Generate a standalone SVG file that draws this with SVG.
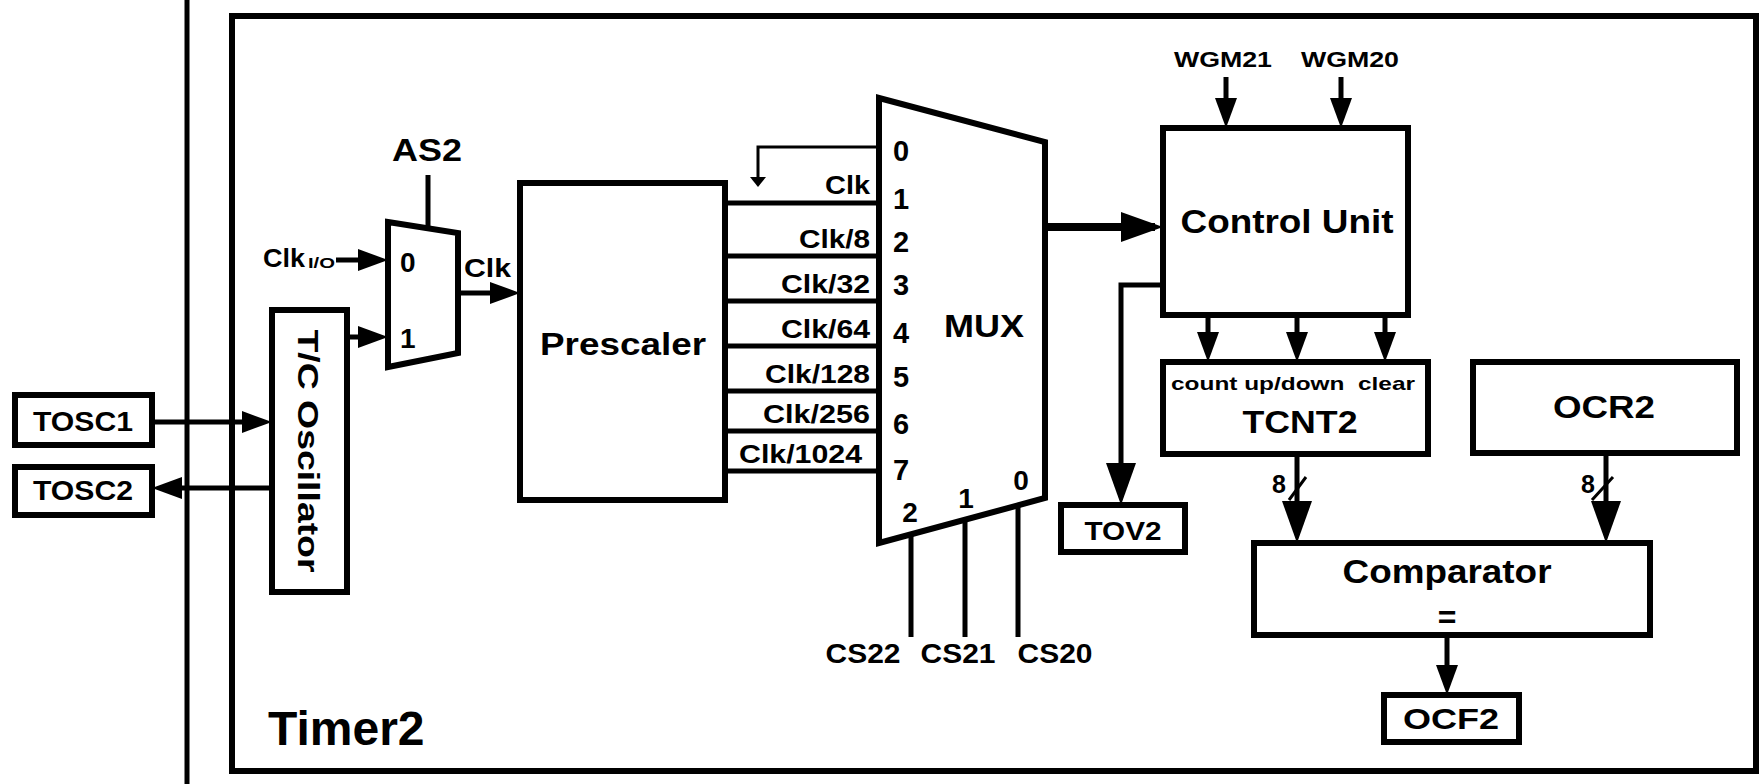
<svg xmlns="http://www.w3.org/2000/svg" width="1762" height="784" viewBox="0 0 1762 784">
<style>
text{font-family:"Liberation Sans",Arial,sans-serif;font-weight:bold;fill:#000}
.box{fill:#fff;stroke:#000;stroke-width:6}
.ln{fill:none;stroke:#000;stroke-width:5}
.thin{fill:none;stroke:#000;stroke-width:3}
.m{text-anchor:middle}
.e{text-anchor:end}
</style>
<defs>
<marker id="m1" markerUnits="userSpaceOnUse" markerWidth="30" markerHeight="22" refX="22" refY="11" orient="auto"><path d="M0,0 L30,11 L0,22 z" fill="#000"/></marker>
<marker id="m2" markerUnits="userSpaceOnUse" markerWidth="42" markerHeight="30" refX="34" refY="15" orient="auto"><path d="M0,0 L42,15 L0,30 z" fill="#000"/></marker>
<marker id="m3" markerUnits="userSpaceOnUse" markerWidth="10" markerHeight="16" refX="6" refY="8" orient="auto"><path d="M0,0 L10,8 L0,16 z" fill="#000"/></marker>
</defs>
<rect width="1762" height="784" fill="#fff"/>
<line x1="187" y1="0" x2="187" y2="784" stroke="#000" stroke-width="5"/>
<g id="timer2">
<rect x="232" y="16" width="1524" height="755" fill="none" stroke="#000" stroke-width="6"/>
<text x="268" y="745" font-size="48">Timer2</text>
</g>
<g id="tosc1"><rect class="box" x="15" y="395" width="137" height="50"/><text class="m" x="83" y="431" font-size="28" textLength="100" lengthAdjust="spacingAndGlyphs">TOSC1</text></g>
<g id="tosc2"><rect class="box" x="15" y="467" width="137" height="48"/><text class="m" x="83" y="500" font-size="28" textLength="100" lengthAdjust="spacingAndGlyphs">TOSC2</text></g>
<g id="oscillator"><rect class="box" x="272" y="310" width="75" height="282"/><text class="m" transform="translate(298,451) rotate(90)" font-size="30" textLength="243" lengthAdjust="spacingAndGlyphs">T/C Oscillator</text></g>
<g id="as2mux">
<polygon class="box" points="388,222 458,233 458,353 388,367"/>
<text x="400" y="272" font-size="28">0</text>
<text x="400" y="348" font-size="28">1</text>
</g>
<g id="as2"><text class="m" x="427" y="161" font-size="31" textLength="70" lengthAdjust="spacingAndGlyphs">AS2</text></g>
<g id="clkio"><text x="263" y="267" font-size="25" textLength="42" lengthAdjust="spacingAndGlyphs">Clk</text><text x="308" y="268" font-size="14" textLength="27" lengthAdjust="spacingAndGlyphs">I/O</text></g>
<g id="prescaler"><rect class="box" x="520" y="183" width="205" height="317"/><text class="m" x="623" y="355" font-size="32" textLength="166" lengthAdjust="spacingAndGlyphs">Prescaler</text></g>
<g id="mux">
<polygon class="box" points="879,98 1045,142 1045,498 879,543"/>
<text class="m" x="984" y="337" font-size="32" textLength="80" lengthAdjust="spacingAndGlyphs">MUX</text>
<text class="m" x="901" y="161" font-size="29">0</text>
<text class="m" x="901" y="209" font-size="29">1</text>
<text class="m" x="901" y="252" font-size="29">2</text>
<text class="m" x="901" y="295" font-size="29">3</text>
<text class="m" x="901" y="343" font-size="29">4</text>
<text class="m" x="901" y="387" font-size="29">5</text>
<text class="m" x="901" y="434" font-size="29">6</text>
<text class="m" x="901" y="480" font-size="29">7</text>
<text class="m" x="910" y="522" font-size="28">2</text>
<text class="m" x="966" y="508" font-size="28">1</text>
<text class="m" x="1021" y="490" font-size="28">0</text>
</g>
<g id="clklabels">
<text x="464" y="277" font-size="25" textLength="47" lengthAdjust="spacingAndGlyphs">Clk</text>
<text class="e" x="870" y="194" font-size="26" textLength="45" lengthAdjust="spacingAndGlyphs">Clk</text>
<text class="e" x="870" y="248" font-size="26" textLength="71" lengthAdjust="spacingAndGlyphs">Clk/8</text>
<text class="e" x="870" y="293" font-size="26" textLength="89" lengthAdjust="spacingAndGlyphs">Clk/32</text>
<text class="e" x="870" y="338" font-size="26" textLength="89" lengthAdjust="spacingAndGlyphs">Clk/64</text>
<text class="e" x="870" y="383" font-size="26" textLength="105" lengthAdjust="spacingAndGlyphs">Clk/128</text>
<text class="e" x="870" y="423" font-size="26" textLength="107" lengthAdjust="spacingAndGlyphs">Clk/256</text>
<text class="e" x="862" y="463" font-size="26" textLength="123" lengthAdjust="spacingAndGlyphs">Clk/1024</text>
</g>
<g id="cs">
<text class="m" x="863" y="663" font-size="27" textLength="75" lengthAdjust="spacingAndGlyphs">CS22</text>
<text class="m" x="958" y="663" font-size="27" textLength="75" lengthAdjust="spacingAndGlyphs">CS21</text>
<text class="m" x="1055" y="663" font-size="27" textLength="75" lengthAdjust="spacingAndGlyphs">CS20</text>
</g>
<g id="wgm">
<text class="m" x="1223" y="67" font-size="22" textLength="98" lengthAdjust="spacingAndGlyphs">WGM21</text>
<text class="m" x="1350" y="67" font-size="22" textLength="98" lengthAdjust="spacingAndGlyphs">WGM20</text>
</g>
<g id="controlunit"><rect class="box" x="1163" y="128" width="245" height="187"/><text class="m" x="1287" y="233" font-size="34" textLength="213" lengthAdjust="spacingAndGlyphs">Control Unit</text></g>
<g id="tov2"><rect class="box" x="1061" y="505" width="124" height="47"/><text class="m" x="1123" y="540" font-size="26" textLength="77" lengthAdjust="spacingAndGlyphs">TOV2</text></g>
<g id="tcnt2"><rect class="box" x="1163" y="362" width="265" height="92"/>
<text x="1171" y="390" font-size="19" textLength="244" lengthAdjust="spacingAndGlyphs" xml:space="preserve">count up/down  clear</text>
<text class="m" x="1300" y="433" font-size="32" textLength="115" lengthAdjust="spacingAndGlyphs">TCNT2</text></g>
<g id="ocr2"><rect class="box" x="1473" y="362" width="264" height="91"/><text class="m" x="1604" y="418" font-size="32" textLength="102" lengthAdjust="spacingAndGlyphs">OCR2</text></g>
<g id="comparator"><rect class="box" x="1254" y="543" width="396" height="92"/>
<text class="m" x="1447" y="583" font-size="33" textLength="209" lengthAdjust="spacingAndGlyphs">Comparator</text>
<text class="m" x="1447" y="628" font-size="32">=</text></g>
<g id="ocf2"><rect class="box" x="1384" y="695" width="135" height="47"/><text class="m" x="1451" y="729" font-size="30" textLength="96" lengthAdjust="spacingAndGlyphs">OCF2</text></g>
<g id="connectors">
<path class="ln" d="M152,422 H264" marker-end="url(#m1)"/>
<path class="ln" d="M272,488 H160" marker-end="url(#m1)"/>
<path class="ln" d="M336,260 H380" marker-end="url(#m1)"/>
<path class="ln" d="M347,337 H380" marker-end="url(#m1)"/>
<path class="ln" d="M458,293 H512" marker-end="url(#m1)"/>
<path class="ln" d="M428,175 V229"/>
<path class="ln" d="M725,203 H879 M725,256 H879 M725,301 H879 M725,346 H879 M725,391 H879 M725,431 H879 M725,471 H879"/>
<path class="thin" d="M879,147 H758 V183" marker-end="url(#m3)"/>
<path fill="none" stroke="#000" stroke-width="8" d="M1045,227 H1155" marker-end="url(#m2)"/>
<path class="ln" d="M911,534 V637 M965,520 V637 M1018,505 V637"/>
<path class="ln" d="M1226,77 V120" marker-end="url(#m1)"/>
<path class="ln" d="M1341,77 V120" marker-end="url(#m1)"/>
<path class="ln" d="M1163,285 H1121 V497" marker-end="url(#m2)"/>
<path class="ln" d="M1208,315 V354" marker-end="url(#m1)"/>
<path class="ln" d="M1297,315 V354" marker-end="url(#m1)"/>
<path class="ln" d="M1385,315 V354" marker-end="url(#m1)"/>
<path class="ln" d="M1297,454 V535" marker-end="url(#m2)"/>
<path class="ln" d="M1606,453 V535" marker-end="url(#m2)"/>
<path class="thin" d="M1289,500 L1306,477 M1592,500 L1613,477"/>
<path class="ln" d="M1447,635 V687" marker-end="url(#m1)"/>
<text class="m" x="1279" y="493" font-size="25">8</text>
<text class="m" x="1588" y="493" font-size="25">8</text>
</g>
</svg>
